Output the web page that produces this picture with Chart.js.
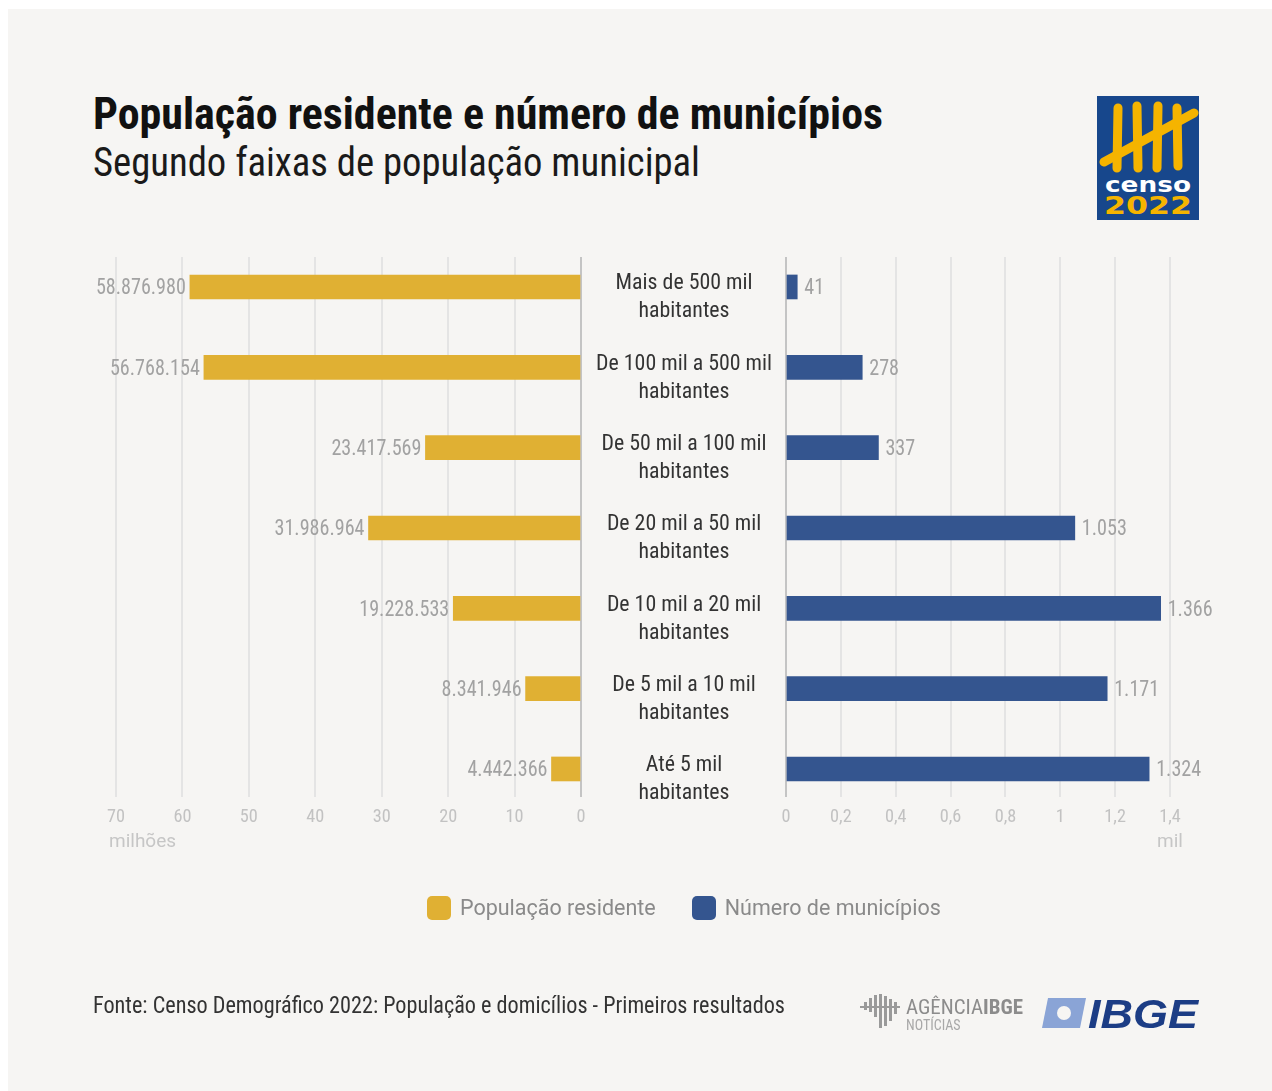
<!DOCTYPE html>
<html><head><meta charset="utf-8">
<script src="https://cdn.jsdelivr.net/npm/chart.js@4/dist/chart.umd.min.js"></script>
<style>
html,body{margin:0;padding:0;background:#fff;}
#page{position:relative;width:1272px;height:1091px;overflow:hidden;background:#fff;}
#panel{position:absolute;left:8px;top:9px;right:0;bottom:0;background:#f6f5f3;}
canvas{position:absolute;left:0;top:0;}
.fit{position:absolute;white-space:nowrap;transform-origin:0 0;line-height:1;font-family:"Roboto Condensed","Liberation Sans Narrow","DejaVu Sans Condensed",sans-serif;}
#title{left:93px;top:92px;font-size:44px;font-weight:bold;color:#111;}
#subtitle{left:93px;top:143px;font-size:40px;color:#1a1a1a;}
#source{left:93px;top:994px;font-size:23px;color:#333;}
#legend{position:absolute;left:427px;top:895px;display:flex;align-items:center;font-family:Roboto,"Open Sans",sans-serif;font-size:21.5px;color:#8a8a8a;}
#legend .item{display:flex;align-items:center;margin-right:36px;}
#legend .box{width:24px;height:24px;border-radius:5px;margin-right:9px;}
svg{position:absolute;}
</style></head>
<body><div id="page">
<div id="panel"></div>
<div id="title" class="fit" data-w="790">População residente e número de municípios</div>
<div id="subtitle" class="fit" data-w="607">Segundo faixas de população municipal</div>
<canvas id="left" width="1272" height="1091"></canvas>
<canvas id="right" width="1272" height="1091"></canvas>
<div id="legend"></div>
<div id="source" class="fit" data-w="692">Fonte: Censo Demográfico 2022: População e domicílios - Primeiros resultados</div>

<svg style="left:1097px;top:96px" width="102" height="124" viewBox="0 0 102 124">
  <rect x="0" y="0" width="102" height="124" fill="#17478c"/>
  <g stroke="#f5b400" stroke-width="9" stroke-linecap="round">
    <line x1="21" y1="12" x2="20" y2="72"/>
    <line x1="40" y1="10" x2="41" y2="72"/>
    <line x1="61" y1="10" x2="60" y2="72"/>
    <line x1="80" y1="12" x2="81" y2="70"/>
    <line x1="7" y1="66" x2="97" y2="17"/>
  </g>
  <text x="51" y="96" text-anchor="middle" font-family="DejaVu Sans" font-weight="bold" font-size="22" fill="#fff" textLength="86" lengthAdjust="spacingAndGlyphs">censo</text>
  <text x="51" y="118" text-anchor="middle" font-family="DejaVu Sans" font-weight="bold" font-size="24" fill="#f5b400" textLength="88" lengthAdjust="spacingAndGlyphs">2022</text>
</svg>

<svg style="left:860px;top:990px" width="340" height="45" viewBox="0 0 340 45">
  <g fill="#9a9a9a">
    <rect x="4" y="12" width="3" height="8"/><rect x="9" y="8" width="3" height="14"/><rect x="14" y="5" width="3" height="22"/>
    <rect x="19" y="4" width="3" height="34"/><rect x="24" y="6" width="3" height="30"/><rect x="29" y="9" width="3" height="22"/>
    <rect x="34" y="12" width="3" height="12"/><rect x="0" y="16" width="40" height="2"/>
  </g>
  <text x="46" y="24" font-family="Roboto Condensed,DejaVu Sans Condensed,sans-serif" font-size="21" fill="#8c8c8c" textLength="117" lengthAdjust="spacingAndGlyphs">AGÊNCIA<tspan font-weight="bold">IBGE</tspan></text>
  <text x="46" y="40" font-family="Roboto Condensed,DejaVu Sans Condensed,sans-serif" font-size="14" fill="#a8a8a8">NOTÍCIAS</text>
  <polygon points="188,8 226,8 220,38 182,38" fill="#8aa4d6"/>
  <circle cx="204" cy="23" r="7" fill="#f6f5f3"/>
  <text x="228" y="38" font-family="Liberation Sans,Arial,sans-serif" font-weight="bold" font-style="italic" font-size="40" fill="#1c3d85" textLength="110" lengthAdjust="spacingAndGlyphs">IBGE</text>
</svg>
</div>
<script>
// ---- data ----
const categories = [
  "Mais de 500 mil habitantes",
  "De 100 mil a 500 mil habitantes",
  "De 50 mil a 100 mil habitantes",
  "De 20 mil a 50 mil habitantes",
  "De 10 mil a 20 mil habitantes",
  "De 5 mil a 10 mil habitantes",
  "Até 5 mil habitantes"
];
const populacao = [58876980, 56768154, 23417569, 31986964, 19228533, 8341946, 4442366];
const municipios = [41, 278, 337, 1053, 1366, 1171, 1324];
const seriesNames = ["População residente", "Número de municípios"];
const seriesColors = ["#e0b033", "#34558f"];
const leftTicks = [0, 10, 20, 30, 40, 50, 60, 70];
const rightTicks = [0, 0.2, 0.4, 0.6, 0.8, 1, 1.2, 1.4];
const leftUnit = "milhões";
const rightUnit = "mil";

// ---- helpers ----
const NARROW = '"Roboto Condensed","Liberation Sans Narrow","DejaVu Sans Condensed",sans-serif';
const fmt = n => String(n).replace(/\B(?=(\d{3})+(?!\d))/g, '.');
const labelLines = categories.map(c => [c.replace(' habitantes', ''), 'habitantes']);
const measure = document.createElement('canvas').getContext('2d');
function textW(str, size) { measure.font = size + 'px ' + NARROW; return measure.measureText(str).width; }

document.querySelectorAll('.fit').forEach(el => {
  const w = el.getBoundingClientRect().width;
  el.style.transform = 'scaleX(' + (parseFloat(el.dataset.w) / w) + ')';
});

const legend = document.getElementById('legend');
seriesNames.forEach((n, i) => {
  const it = document.createElement('div'); it.className = 'item';
  const b = document.createElement('div'); b.className = 'box'; b.style.background = seriesColors[i];
  const t = document.createElement('span'); t.textContent = n;
  it.appendChild(b); it.appendChild(t); legend.appendChild(it);
});

// sizes chosen so condensed text widths match the reference
const valSize = 22;
const valScale = Math.min(1, 90 / textW('58.876.980', valSize));
const tickSize = Math.max(15, Math.min(21, 21 * 18 / textW('70', 21)));
let widest24 = 0;
labelLines.forEach(ls => ls.forEach(l => { widest24 = Math.max(widest24, textW(l, 24)); }));
const catSize = Math.min(25, 24 * 176 / widest24);
const catWidest = widest24 * catSize / 24;
const catPad = Math.max(0, 102 - catWidest / 2);

const valueLabels = {
  id: 'valueLabels',
  afterDatasetsDraw(chart, args, o) {
    const ctx = chart.ctx, meta = chart.getDatasetMeta(0);
    meta.data.forEach((bar, i) => {
      const x = o.side === 'left' ? bar.x - 4 : bar.x + 7;
      ctx.save();
      ctx.font = valSize + 'px ' + NARROW; ctx.fillStyle = '#a2a2a2'; ctx.textBaseline = 'middle';
      ctx.textAlign = o.side === 'left' ? 'right' : 'left';
      ctx.translate(x, bar.y + 2); ctx.scale(valScale, 1);
      ctx.fillText(fmt(o.values[i]), 0, 0);
      ctx.restore();
    });
  }
};
const unitLabel = {
  id: 'unitLabel',
  afterDraw(chart, args, o) {
    const ctx = chart.ctx, xs = chart.scales.x;
    ctx.save();
    ctx.font = '19px Roboto, sans-serif'; ctx.fillStyle = '#c6c6c6'; ctx.textBaseline = 'middle';
    ctx.textAlign = o.align;
    ctx.fillText(o.text, xs.getPixelForValue(o.at) + o.dx, chart.chartArea.bottom + 45);
    ctx.restore();
  }
};

function fitArea(chart, t) {
  for (let k = 0; k < 3; k++) {
    const a = chart.chartArea;
    const p = chart.config.options.layout.padding;
    chart.config.options.layout.padding = {
      left: p.left + (t.left - a.left), right: p.right + (a.right - t.right),
      top: p.top + (t.top - a.top), bottom: p.bottom + (a.bottom - t.bottom)
    };
    chart.update('none');
  }
}

const yBase = { type: 'linear', min: -0.373, max: 6.349, reverse: true, offset: false };
const gridCol = ctx => (ctx.tick && ctx.tick.value === 0) ? '#c4c4c4' : '#e4e4e4';
const xTickFont = { family: NARROW, size: tickSize };

// left chart
const leftChart = new Chart(document.getElementById('left'), {
  type: 'bar',
  data: { datasets: [{ label: seriesNames[0], data: populacao.map((v, i) => ({ x: v / 1e6, y: i })),
    backgroundColor: seriesColors[0], barThickness: 24 }] },
  options: {
    indexAxis: 'y', responsive: false, animation: false, devicePixelRatio: 1,
    layout: { padding: { left: 116, right: 1272 - 581, top: 257, bottom: 1091 - 830 } },
    plugins: { legend: { display: false }, tooltip: { enabled: false },
      valueLabels: { side: 'left', values: populacao },
      unitLabel: { text: leftUnit, align: 'left', at: 70, dx: -7 } },
    scales: {
      x: { type: 'linear', reverse: true, min: 0, max: 70,
        afterBuildTicks: s => { s.ticks = leftTicks.map(v => ({ value: v })); },
        ticks: { font: xTickFont, color: '#c2c2c2', padding: 10, maxRotation: 0, callback: v => String(v) },
        grid: { color: gridCol, lineWidth: 2, drawTicks: false }, border: { display: false } },
      y: Object.assign({ display: false }, yBase)
    }
  },
  plugins: [valueLabels, unitLabel]
});
fitArea(leftChart, { left: 116, right: 581, top: 257, bottom: 797 });

// right chart
const rightChart = new Chart(document.getElementById('right'), {
  type: 'bar',
  data: { datasets: [{ label: seriesNames[1], data: municipios.map((v, i) => ({ x: v / 1000, y: i })),
    backgroundColor: seriesColors[1], barThickness: 24 }] },
  options: {
    indexAxis: 'y', responsive: false, animation: false, devicePixelRatio: 1,
    layout: { padding: { left: 582, right: 1272 - 1170, top: 257, bottom: 1091 - 830 } },
    plugins: { legend: { display: false }, tooltip: { enabled: false },
      valueLabels: { side: 'right', values: municipios },
      unitLabel: { text: rightUnit, align: 'center', at: 1.4, dx: 0 } },
    scales: {
      x: { type: 'linear', min: 0, max: 1.4,
        afterBuildTicks: s => { s.ticks = rightTicks.map(v => ({ value: v })); },
        ticks: { font: xTickFont, color: '#c2c2c2', padding: 10, maxRotation: 0,
          callback: v => String(Math.round(v * 10) / 10).replace('.', ',') },
        grid: { color: gridCol, lineWidth: 2, drawTicks: false }, border: { display: false } },
      y: Object.assign({}, yBase, {
        position: 'left',
        afterBuildTicks: s => { s.ticks = categories.map((c, i) => ({ value: i })); },
        afterFit: s => { s.width = 204; },
        ticks: { autoSkip: false, crossAlign: 'center', padding: catPad, labelOffset: 11,
          font: { family: NARROW, size: catSize, lineHeight: 28 / catSize }, color: '#333',
          callback: v => labelLines[v] },
        grid: { display: false, drawTicks: false }, border: { display: false } })
    }
  },
  plugins: [valueLabels, unitLabel]
});
fitArea(rightChart, { left: 786, right: 1170, top: 257, bottom: 797 });
</script>
</body></html>
